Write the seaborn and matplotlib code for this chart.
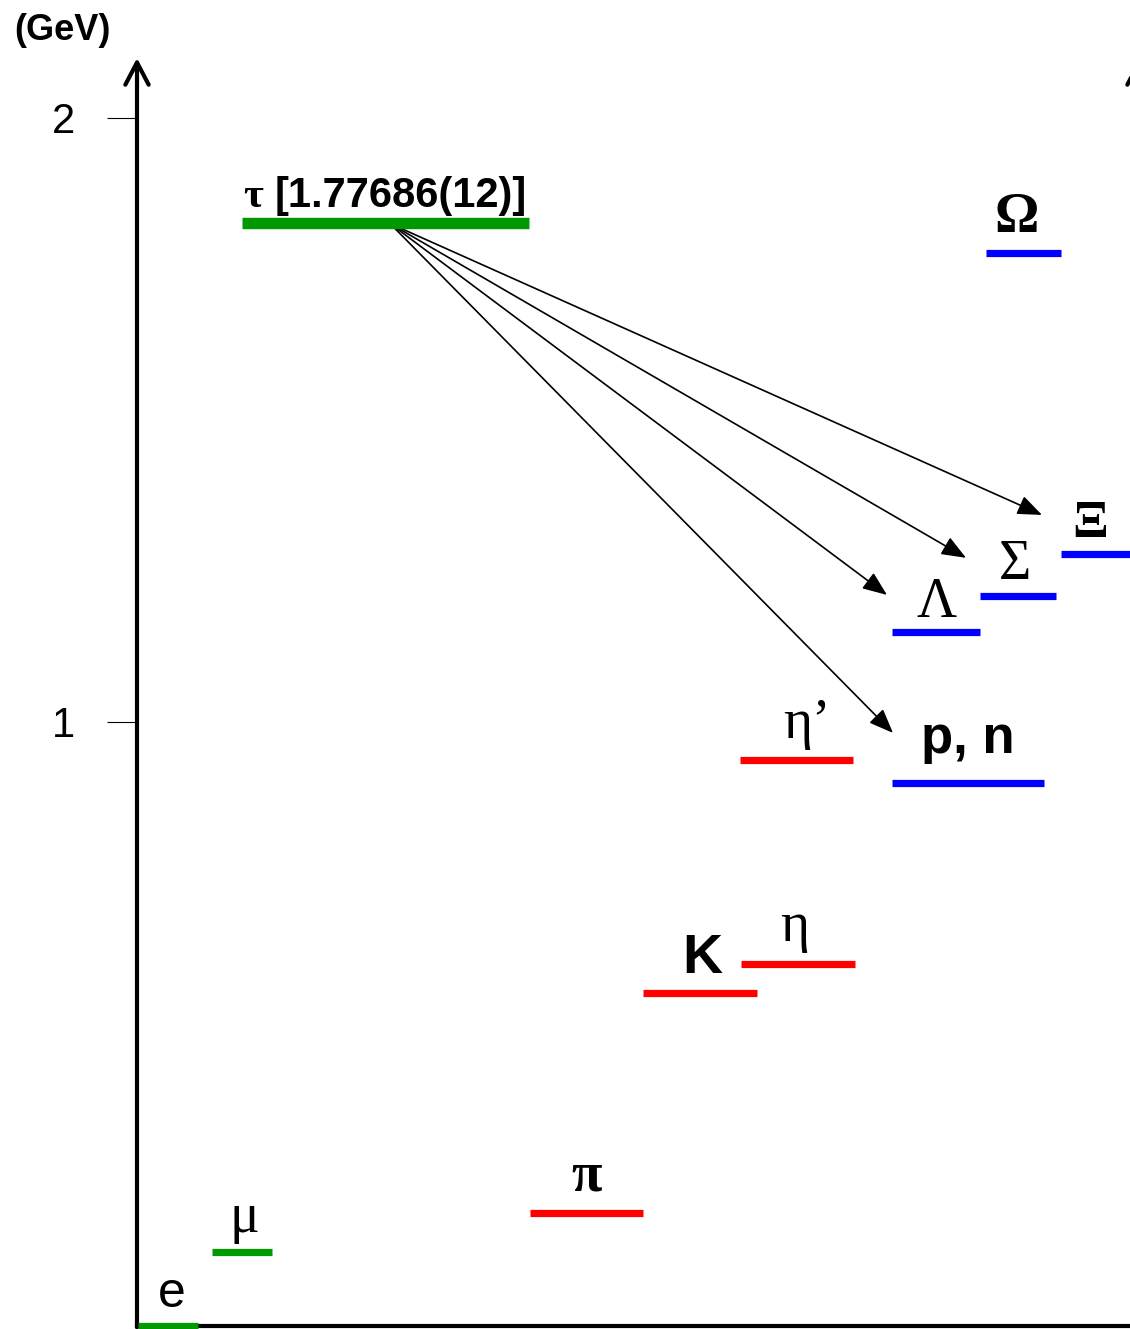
import matplotlib
matplotlib.use("Agg")
import matplotlib.pyplot as plt
import numpy as np
import pandas as pd
import seaborn as sns

# ---- data: particle masses (GeV) as drawn on the level scheme ----
particles = ["e", "μ", "τ", "π", "K", "η", "η’", "p, n", "Λ", "Σ", "Ξ", "Ω"]
masses = [0.0, 0.1225, 1.825, 0.187, 0.550, 0.599, 0.936, 0.899, 1.149, 1.207, 1.278, 1.775]
families = ["lepton", "lepton", "lepton",
            "meson", "meson", "meson", "meson",
            "baryon", "baryon", "baryon", "baryon", "baryon"]
tau_mass_text = "[1.77686(12)]"
decay_targets = ["Ξ", "Σ", "Λ", "p, n"]
y_ticks = [1, 2]
y_tick_labels = ["1", "2"]

# ---- layout: horizontal spans of each level and label anchors ----
span = {
    "e": (1, 61), "μ": (75, 135), "τ": (105, 392),
    "π": (393, 506), "K": (506, 620), "η": (604, 718), "η’": (603, 716),
    "p, n": (755, 907), "Λ": (755, 843), "Σ": (843, 919),
    "Ξ": (924, 1000), "Ω": (849, 924),
}
# (x centre, baseline height above the level, font family, weight, size)
label_style = {
    "e":    (35, 0.0306, "Liberation Sans", "normal", 36),
    "μ":    (107, 0.1548 - 0.1225, "Liberation Serif", "normal", 40),
    "π":    (450, 0.224 - 0.187, "Liberation Serif", "bold", 40),
    "K":    (565, 0.584 - 0.550, "Liberation Sans", "bold", 40),
    "η":    (658, 0.636 - 0.599, "Liberation Serif", "normal", 40),
    "η’":   (670, 0.973 - 0.936, "Liberation Serif", "normal", 40),
    "p, n": (831, 0.948 - 0.899, "Liberation Sans", "bold", 38),
    "Λ":    (800, 1.173 - 1.149, "Liberation Serif", "normal", 40),
    "Σ":    (878, 1.236 - 1.207, "Liberation Serif", "normal", 40),
    "Ξ":    (953, 1.305 - 1.278, "Liberation Serif", "bold", 38),
    "Ω":    (880, 1.8105 - 1.775, "Liberation Serif", "bold", 40),
}
arrow_start = (253, 1.8245)
arrow_tips = {"Ξ": (905, 1.342), "Σ": (829, 1.271), "Λ": (750, 1.2095), "p, n": (756, 0.981)}

palette = {"lepton": "#009900", "meson": "#ff0000", "baryon": "#0000ff"}

sns.set_style("white")
plt.rcParams["font.family"] = ["Liberation Sans", "DejaVu Sans"]
plt.rcParams["text.color"] = "black"
plt.rcParams["axes.labelcolor"] = "black"
plt.rcParams["ytick.color"] = "black"
plt.rcParams["xtick.color"] = "black"

W, H = 1130, 1329
fig = plt.figure(figsize=(W / 100, H / 100), dpi=100)
x0_px, y0_px, px_per_gev = 137, 1325.5, 604.0
y_top = 2.0985
ax = fig.add_axes([x0_px / W, (H - y0_px) / H, (W - x0_px) / W, y_top * px_per_gev / H])
ax.set_xlim(0, W - x0_px)
ax.set_ylim(0, y_top)

# level bars
rows = []
for name, m, fam in zip(particles, masses, families):
    a, b = span[name]
    rows.append({"particle": name, "family": fam, "x": a, "mass": m})
    rows.append({"particle": name, "family": fam, "x": b, "mass": m})
levels = pd.DataFrame(rows)
others = levels[levels["particle"] != "τ"]
tau = levels[levels["particle"] == "τ"]

sns.lineplot(data=others, x="x", y="mass", hue="family", units="particle",
             estimator=None, sort=False, palette=palette, linewidth=5.2,
             legend=False, ax=ax, solid_capstyle="butt")
sns.lineplot(data=tau, x="x", y="mass", hue="family", units="particle",
             estimator=None, sort=False, palette=palette, linewidth=8.2,
             legend=False, ax=ax, solid_capstyle="butt")
for ln in ax.lines:
    ln.set_clip_on(False)
    ln.set_zorder(4)

# particle labels
mass_of = dict(zip(particles, masses))
for name in particles:
    if name == "τ":
        continue
    xc, dy, fam, wt, fs = label_style[name]
    ax.text(xc, mass_of[name] + dy, name, ha="center", va="baseline", color="black",
            family=[fam, "DejaVu Serif"], weight=wt, fontsize=fs, clip_on=False)

tau_base = 1.8518
ax.text(106, tau_base, "τ", ha="left", va="baseline", color="black",
        family=["Liberation Serif", "DejaVu Serif"], weight="bold", fontsize=31)
ax.text(138, tau_base, tau_mass_text, ha="left", va="baseline", color="black",
        family=["Liberation Sans"], weight="bold", fontsize=30)

# decay arrows from the tau level
for tgt in decay_targets:
    ax.annotate("", xy=arrow_tips[tgt], xytext=arrow_start,
                arrowprops=dict(arrowstyle="-|>,head_length=0.75,head_width=0.3",
                                mutation_scale=20, lw=1.2, color="black",
                                shrinkA=0, shrinkB=0), annotation_clip=False)

# axes: vertical energy arrow, baseline, and the neighbouring arrow at the right
for spine in ["left", "top", "right"]:
    ax.spines[spine].set_visible(False)
ax.spines["bottom"].set_linewidth(3)
ax.spines["bottom"].set_color("black")
for xv in (0, 1002):
    ax.annotate("", xy=(xv, y_top), xytext=(xv, -0.003),
                arrowprops=dict(arrowstyle="->,head_length=0.8,head_width=0.42",
                                mutation_scale=20, lw=3, color="black",
                                shrinkA=0, shrinkB=0), annotation_clip=False)

ax.set_xticks([])
ax.set_yticks(y_ticks)
ax.set_yticklabels(y_tick_labels)
ax.tick_params(axis="y", left=True, length=21.6, width=0.8, color="black",
               pad=23, labelsize=30, labelcolor="black")
ax.set_xlabel("")
ax.set_ylabel("")

fig.text(14 / W, 1 - 30 / H, "(GeV)", ha="left", va="center", color="black",
         weight="bold", fontsize=26, family=["Liberation Sans"])

fig.savefig("out.png", dpi=100)
